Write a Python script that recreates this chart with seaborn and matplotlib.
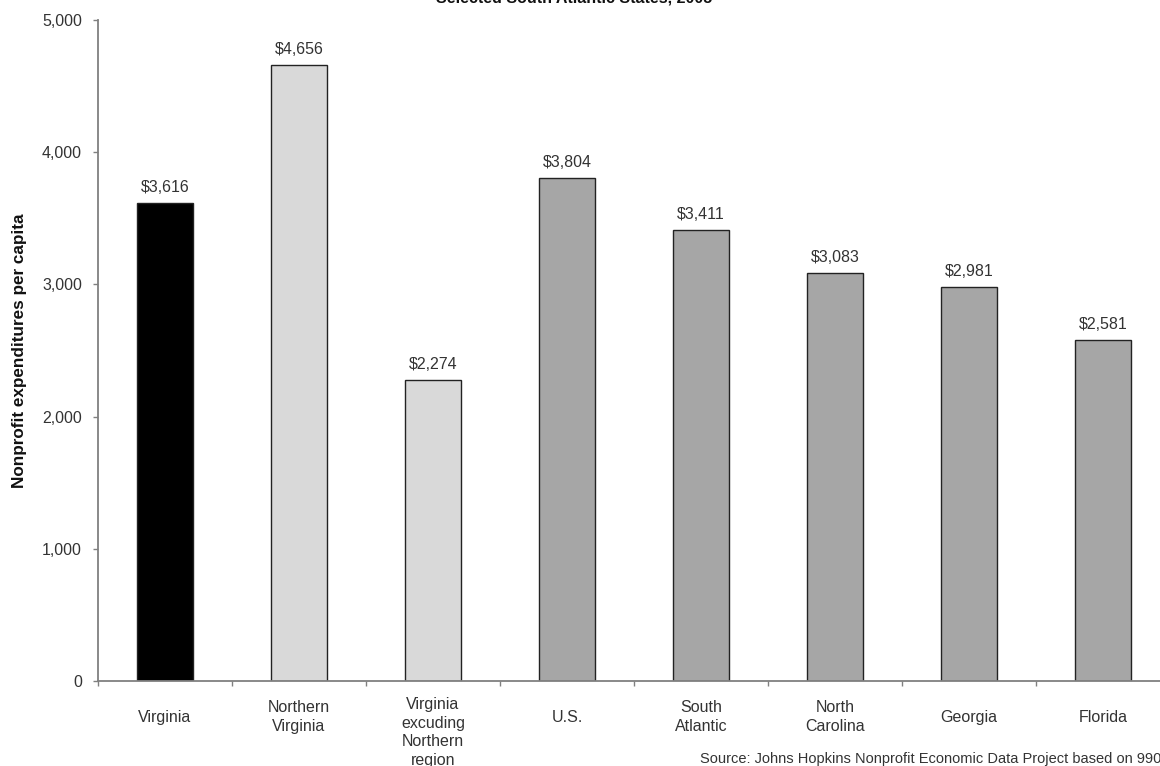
import matplotlib.pyplot as plt
import matplotlib.transforms as mtransforms
import seaborn as sns
import pandas as pd
from matplotlib.ticker import FuncFormatter, FixedLocator

regions = ["Virginia", "Northern\nVirginia", "Virginia\nexcuding\nNorthern\nregion", "U.S.",
           "South\nAtlantic", "North\nCarolina", "Georgia", "Florida"]
spending = [3616, 4656, 2274, 3804, 3411, 3083, 2981, 2581]
colors = ["#000000", "#d9d9d9", "#d9d9d9", "#a6a6a6", "#a6a6a6", "#a6a6a6", "#a6a6a6", "#a6a6a6"]

sns.set_style("white")
plt.rcParams["font.family"] = ["Liberation Sans", "DejaVu Sans"]
txt = "#333333"

df = pd.DataFrame({"region": regions, "spending": spending})

fig = plt.figure(figsize=(11.6, 7.66), dpi=100)
ax = fig.add_axes([98 / 1160, 1 - 681 / 766, 1072 / 1160, 661 / 766])

sns.barplot(data=df, x="region", y="spending", hue="region", palette=colors,
            width=0.42, edgecolor="#222222", linewidth=1.0, legend=False, ax=ax)

ax.set_xlim(-0.5, 7.5)
ax.set_ylim(0, 5000)
ax.set_yticks(range(0, 5001, 1000))
ax.yaxis.set_major_formatter(FuncFormatter(lambda v, p: f"{int(v):,}"))

for i, v in enumerate(spending):
    ax.annotate(f"${v:,}", (i, v), xytext=(0, 8), textcoords="offset points",
                ha="center", va="baseline", fontsize=11.5, color=txt)

# category ticks sit between bars
ax.xaxis.set_minor_locator(FixedLocator([i - 0.5 for i in range(len(regions) + 1)]))
ax.tick_params(axis="x", which="minor", length=3.6, width=1, color="#808080", direction="out", bottom=True)
ax.tick_params(axis="x", which="major", length=0, pad=26, labelsize=11.5, labelcolor=txt)
ax.tick_params(axis="y", length=3.6, width=1, color="#808080", direction="out", left=True,
               labelsize=11.5, pad=8, labelcolor=txt)
for lab in ax.get_xticklabels():
    lab.set_verticalalignment("center")
    lab.set_linespacing(1.3)
    if lab.get_text().count("\n") > 2:
        lab.set_transform(lab.get_transform() +
                          mtransforms.ScaledTranslation(0, -0.155, fig.dpi_scale_trans))

sns.despine(ax=ax)
for s in ["left", "bottom"]:
    ax.spines[s].set_color("#808080")
    ax.spines[s].set_linewidth(1.3)

ax.set_xlabel("")
ax.set_ylabel("Nonprofit expenditures per capita", fontsize=12.3, fontweight="bold",
              labelpad=11, color="#111111")

fig.text(574 / 1160, 1 + 2 / 766, "Selected South Atlantic States, 2005", ha="center", va="center",
         fontsize=11.5, fontweight="bold", color="#111111")
fig.text(700 / 1160, 1 - 763 / 766, "Source: Johns Hopkins Nonprofit Economic Data Project based on 990 data",
         ha="left", va="baseline", fontsize=10.5, color=txt)

fig.savefig("out.png", dpi=100)
